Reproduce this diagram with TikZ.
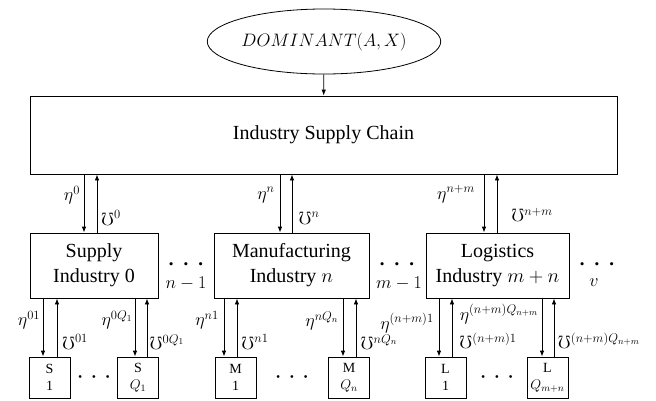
\RequirePackage{fix-cm}
\documentclass[tikz,border=0pt]{standalone}
\usepackage{amssymb}
\usepackage{fontspec}
\setmainfont{Liberation Serif}
\usetikzlibrary{arrows.meta,shapes.geometric}
\newcommand{\bigdots}{{\boldmath$\mathord{\cdot}\mkern6mu\mathord{\cdot}\mkern6mu\mathord{\cdot}$}}
\newcommand{\smalldots}{{\boldmath$\mathord{\cdot}\mkern7mu\mathord{\cdot}\mkern7mu\mathord{\cdot}$}}
\begin{document}
\begin{tikzpicture}[x=1pt,y=-1pt,line width=0.8pt,
  bigbox/.style={draw,rectangle,inner sep=0pt,minimum height=65pt,align=center,font=\fontsize{20}{25}\selectfont},
  subbox/.style={draw,rectangle,inner sep=0pt,minimum width=41pt,minimum height=41pt,align=center,font=\fontsize{14}{17}\selectfont},
  arr/.style={-{Latex[length=6pt,width=4.5pt]}},
  lab/.style={inner sep=0pt,font=\fontsize{18}{20}\selectfont},
  dotlab/.style={inner sep=0pt,font=\fontsize{21}{22}\selectfont},
  sdot/.style={inner sep=0pt,font=\fontsize{18}{20}\selectfont}]
\useasboundingbox (0,0) rectangle (656,400);

% top
\node[draw,ellipse,inner sep=0pt,minimum width=162pt,minimum height=65pt,font=\fontsize{18}{20}\selectfont] (dom) at (324,41.5) {$DOMINANT(A,X)$};
\node[draw,rectangle,inner sep=0pt,minimum width=587pt,minimum height=78pt,font=\fontsize{20}{22}\selectfont] (isc) at (323.5,135) {Industry Supply Chain};
\draw[arr] (dom) -- (isc);

% industry boxes
\node[bigbox,minimum width=128pt] (sup) at (94,265.5) {Supply\\Industry 0};
\node[bigbox,minimum width=155pt] (man) at (291.5,265.5) {Manufacturing\\Industry $n$};
\node[bigbox,minimum width=143pt] (log) at (497.5,265.5) {Logistics\\Industry $m+n$};

% sub boxes
\node[subbox] (s1) at (49.5,377.5) {S\\1};
\node[subbox] (sq) at (138,377.5) {S\\$Q_1$};
\node[subbox] (m1) at (235.5,377.5) {M\\1};
\node[subbox] (mq) at (349,377.5) {M\\$Q_n$};
\node[subbox] (l1) at (445.5,377.5) {L\\1};
\node[subbox] (lq) at (547.5,377.5) {L\\$Q_{m+n}$};

% arrow x positions
\coordinate (a0d) at (84,0);   \coordinate (a0u) at (97,0);
\coordinate (and) at (280,0);  \coordinate (anu) at (292,0);
\coordinate (amd) at (484,0);  \coordinate (amu) at (497,0);
\coordinate (b1d) at (43,0);   \coordinate (b1u) at (57,0);
\coordinate (b2d) at (135,0);  \coordinate (b2u) at (147,0);
\coordinate (b3d) at (224,0);  \coordinate (b3u) at (237,0);
\coordinate (b4d) at (343,0);  \coordinate (b4u) at (356,0);
\coordinate (b5d) at (439,0);  \coordinate (b5u) at (452,0);
\coordinate (b6d) at (542,0);  \coordinate (b6u) at (554,0);

\draw[arr] (isc.south -| a0d) -- (sup.north -| a0d);
\draw[arr] (sup.north -| a0u) -- (isc.south -| a0u);
\draw[arr] (isc.south -| and) -- (man.north -| and);
\draw[arr] (man.north -| anu) -- (isc.south -| anu);
\draw[arr] (isc.south -| amd) -- (log.north -| amd);
\draw[arr] (log.north -| amu) -- (isc.south -| amu);

\draw[arr] (sup.south -| b1d) -- (s1.north -| b1d);
\draw[arr] (s1.north -| b1u) -- (sup.south -| b1u);
\draw[arr] (sup.south -| b2d) -- (sq.north -| b2d);
\draw[arr] (sq.north -| b2u) -- (sup.south -| b2u);
\draw[arr] (man.south -| b3d) -- (m1.north -| b3d);
\draw[arr] (m1.north -| b3u) -- (man.south -| b3u);
\draw[arr] (man.south -| b4d) -- (mq.north -| b4d);
\draw[arr] (mq.north -| b4u) -- (man.south -| b4u);
\draw[arr] (log.south -| b5d) -- (l1.north -| b5d);
\draw[arr] (l1.north -| b5u) -- (log.south -| b5u);
\draw[arr] (log.south -| b6d) -- (lq.north -| b6d);
\draw[arr] (lq.north -| b6u) -- (log.south -| b6u);

% top labels
\node[lab] (e0) at (72,195) {$\eta^{0}$};
\node[lab] (u0) at (111,218) {$\mho^{0}$};
\node[lab] (en) at (266,195) {$\eta^{n}$};
\node[lab] (un) at (309,218) {$\mho^{n}$};
\node[lab] (enm) at (456,194) {$\eta^{n+m}$};
\node[lab] (unm) at (532,215) {$\mho^{n+m}$};

% bottom labels
\node[lab] (e01) at (29,320) {$\eta^{01}$};
\node[lab] (u01) at (75,342) {$\mho^{01}$};
\node[lab] (e0q) at (117,320) {$\eta^{0Q_1}$};
\node[lab] (u0q) at (167,342) {$\mho^{0Q_1}$};
\node[lab] (en1) at (207,320) {$\eta^{n1}$};
\node[lab] (un1) at (255,342) {$\mho^{n1}$};
\node[lab] (enq) at (322,321) {$\eta^{nQ_n}$};
\node[lab] (unq) at (379,342) {$\mho^{nQ_n}$};
\node[lab] (enm1) at (407,323) {$\eta^{(n+m)1}$};
\node[lab] (enmq) at (499,314) {$\eta^{(n+m)Q_{n+m}}$};
\node[lab] (unm1) at (488,341) {$\mho^{(n+m)1}$};
\node[lab] (unmq) at (599,341) {$\mho^{(n+m)Q_{n+m}}$};

% dots between industries
\node[dotlab] (dA) at (186,265) {\bigdots};
\node[lab] (tA) at (186,283) {$n-1$};
\node[dotlab] (dB) at (397,265) {\bigdots};
\node[lab] (tB) at (399,283) {$m-1$};
\node[dotlab] (dC) at (597,265) {\bigdots};
\node[lab] (tC) at (594,283) {$v$};

% dots between sub boxes
\node[sdot] (sd1) at (94,377) {\smalldots};
\node[sdot] (sd2) at (292,377) {\smalldots};
\node[sdot] (sd3) at (497,377) {\smalldots};
\end{tikzpicture}
\end{document}
